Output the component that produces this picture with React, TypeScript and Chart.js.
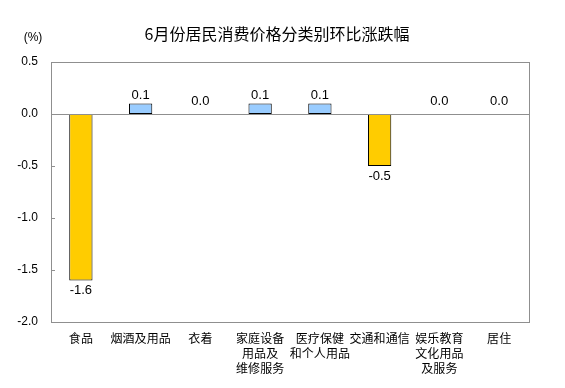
import React, { useEffect, useRef } from "react";
import { Chart, registerables } from "chart.js";

Chart.register(...registerables);

const title = "6月份居民消费价格分类别环比涨跌幅";
const unitLabel = "(%)";
const categories: string[][] = [
  ["食品"],
  ["烟酒及用品"],
  ["衣着"],
  ["家庭设备", "用品及", "维修服务"],
  ["医疗保健", "和个人用品"],
  ["交通和通信"],
  ["娱乐教育", "文化用品", "及服务"],
  ["居住"],
];
const values: number[] = [-1.6, 0.1, 0.0, 0.1, 0.1, -0.5, 0.0, 0.0];
const yMin = -2.0;
const yMax = 0.5;
const yStep = 0.5;

const POS_COLOR = "#99CCFF";
const NEG_COLOR = "#FFCC00";
const FRAME = "#8f8f8f";
const NUM_FONT = "'Liberation Sans', Arial, sans-serif";
const CJK_FONT = "'Noto Sans CJK SC', sans-serif";

const decorPlugin = {
  id: "decor",
  beforeDatasetsDraw(chart: any) {
    const { ctx } = chart;
    ctx.save();
    ctx.fillStyle = "#000";
    ctx.font = `16px ${CJK_FONT}`;
    ctx.textAlign = "center";
    ctx.textBaseline = "middle";
    ctx.fillText(title, 277, 34);
    ctx.font = `12px ${NUM_FONT}`;
    ctx.fillText(unitLabel, 33, 38);
    ctx.restore();
  },
  afterDatasetsDraw(chart: any) {
    const { ctx, chartArea, scales } = chart;
    const y = scales.y;
    ctx.save();
    ctx.strokeStyle = FRAME;
    ctx.lineWidth = 1;
    ctx.strokeRect(
      Math.round(chartArea.left) + 0.5,
      Math.round(chartArea.top) + 0.5,
      Math.round(chartArea.right - chartArea.left),
      Math.round(chartArea.bottom - chartArea.top)
    );
    const zy = Math.round(y.getPixelForValue(0)) + 0.5;
    ctx.beginPath();
    ctx.moveTo(chartArea.left, zy);
    ctx.lineTo(chartArea.right, zy);
    ctx.stroke();
    // inner tick marks
    y.ticks.forEach((t: any) => {
      const py = Math.round(y.getPixelForValue(t.value)) + 0.5;
      ctx.beginPath();
      ctx.moveTo(chartArea.left, py);
      ctx.lineTo(chartArea.left + 4, py);
      ctx.stroke();
    });
    // data labels
    const meta = chart.getDatasetMeta(0);
    ctx.fillStyle = "#000";
    ctx.font = `13px ${NUM_FONT}`;
    ctx.textAlign = "center";
    ctx.textBaseline = "middle";
    meta.data.forEach((bar: any, i: number) => {
      const v = values[i];
      let ty: number;
      if (v > 0) ty = bar.y - 8;
      else if (v === 0) ty = bar.y - 13;
      else ty = bar.y + 10;
      ctx.fillText(v.toFixed(1), bar.x, ty);
    });
    ctx.restore();
  },
};

export default function App() {
  const ref = useRef<HTMLCanvasElement>(null);
  useEffect(() => {
    if (!ref.current) return;
    const chart = new Chart(ref.current, {
      type: "bar",
      data: {
        labels: categories,
        datasets: [
          {
            data: values,
            backgroundColor: values.map((v) => (v < 0 ? NEG_COLOR : POS_COLOR)),
            borderColor: "#000",
            borderWidth: values.map((v) => (v === 0 ? 0 : 1)),
            borderSkipped: false,
            categoryPercentage: 1,
            barPercentage: 0.39,
          },
        ],
      },
      options: {
        animation: false,
        responsive: false,
        maintainAspectRatio: false,
        layout: { padding: { top: 62, left: 0, right: 36, bottom: 0 } },
        plugins: {
          legend: { display: false },
          title: { display: false },
          tooltip: { enabled: false },
        },
        scales: {
          x: {
            grid: { display: false, drawTicks: false },
            border: { display: false },
            ticks: {
              color: "#000",
              font: { family: CJK_FONT, size: 12, lineHeight: 1.25 },
              padding: 9,
              maxRotation: 0,
              autoSkip: false,
            },
            afterFit(scale: any) {
              scale.height = 66;
            },
          },
          y: {
            min: yMin,
            max: yMax,
            grid: { display: false, drawTicks: false },
            border: { display: false },
            ticks: {
              stepSize: yStep,
              color: "#000",
              font: { family: NUM_FONT, size: 12 },
              padding: 13,
              callback: (v: any) => Number(v).toFixed(1),
            },
            afterFit(scale: any) {
              scale.width = 51;
            },
          },
        },
      },
      plugins: [decorPlugin],
    });
    return () => chart.destroy();
  }, []);
  return (
    <div style={{ position: "fixed", left: 0, top: 0, width: 565, height: 388, background: "#fff" }}>
      <canvas ref={ref} width={565} height={388} />
    </div>
  );
}
